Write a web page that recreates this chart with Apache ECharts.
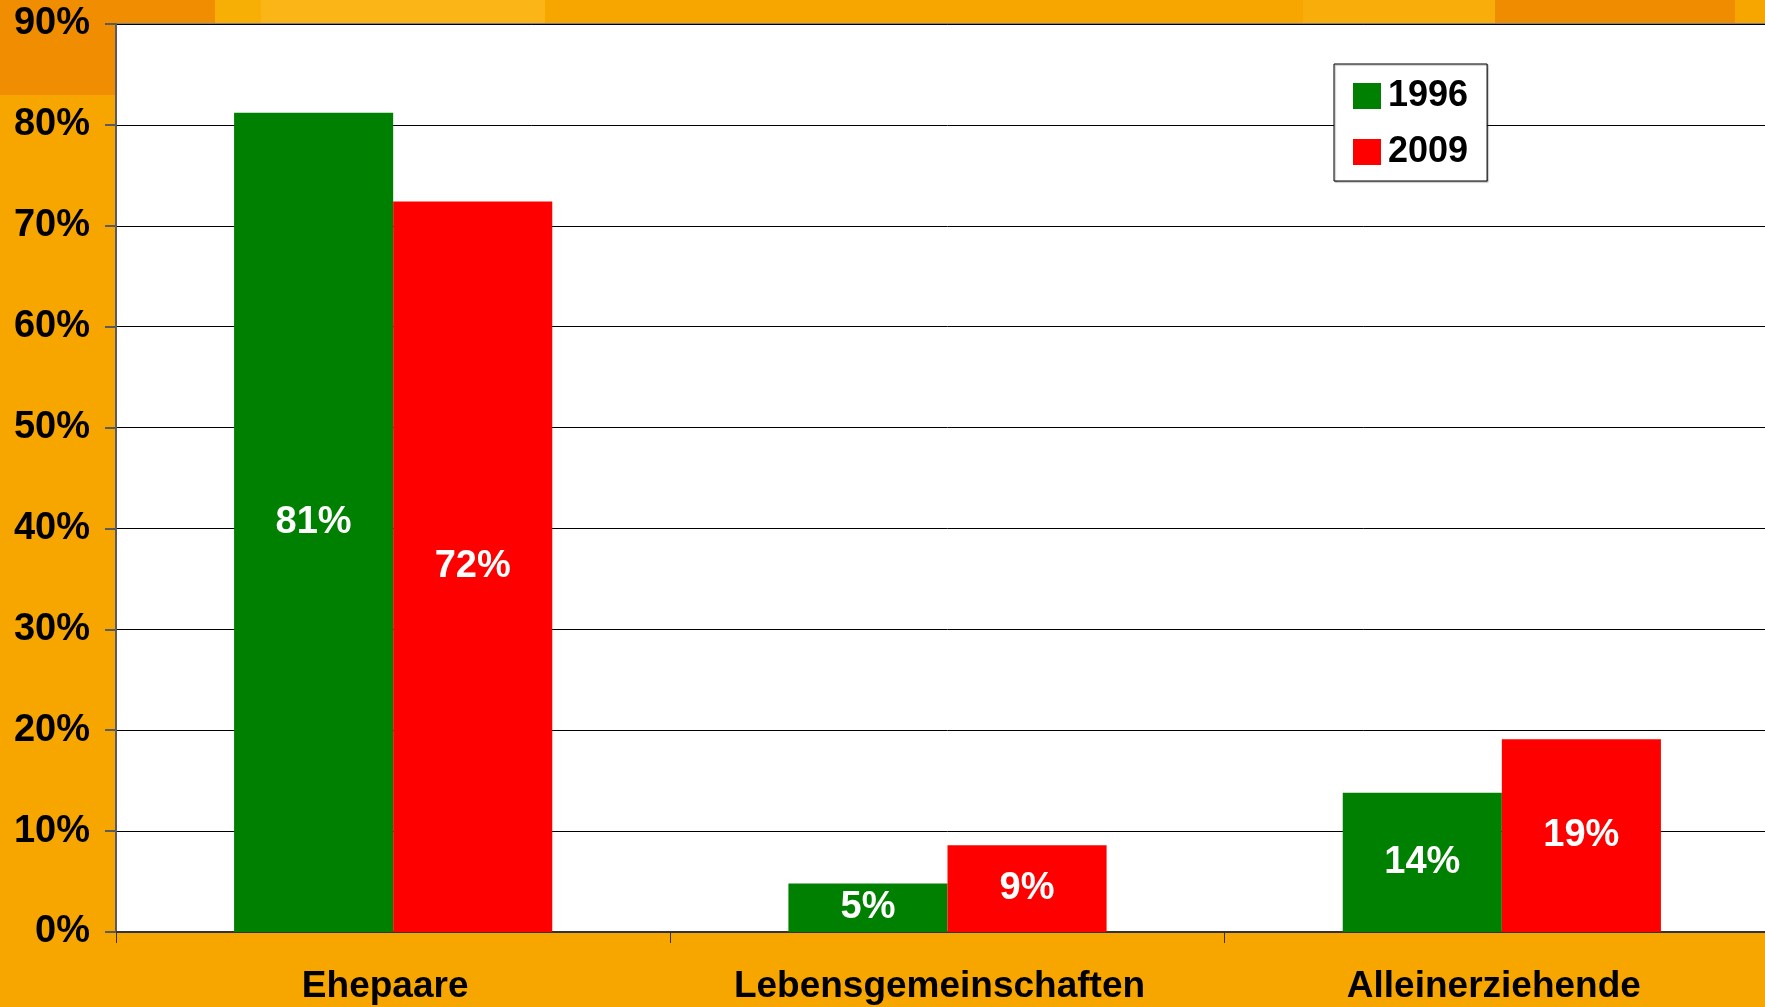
<!DOCTYPE html>
<html>
<head>
<meta charset="utf-8">
<script src="https://cdn.jsdelivr.net/npm/echarts@6/dist/echarts.min.js"></script>
<style>
html,body{margin:0;padding:0;background:#F7A600;overflow:hidden;}
#chart{width:1779px;height:1007px;}
</style>
</head>
<body>
<div id="chart"></div>
<script>
const categories = ['Ehepaare', 'Lebensgemeinschaften', 'Alleinerziehende'];
const seriesNames = ['1996', '2009'];
const values1996 = [81.2, 4.8, 13.8];
const values2009 = [72.4, 8.6, 19.1];
const yTicks = [0, 10, 20, 30, 40, 50, 60, 70, 80, 90];

const FONT = '"Liberation Sans", Arial, sans-serif';
const chart = echarts.init(document.getElementById('chart'), null, {renderer: 'canvas'});

const labelOpt = {
  show: true,
  position: 'inside',
  color: '#fff',
  fontFamily: FONT,
  fontWeight: 'bold',
  fontSize: 38,
  formatter: p => Math.round(p.value) + '%'
};

chart.setOption({
  backgroundColor: '#F7A600',
  animation: false,
  graphic: [
    {type: 'rect', z: -10, silent: true, shape: {x: 0, y: 0, width: 215, height: 95}, style: {fill: '#F18D00'}},
    {type: 'rect', z: -10, silent: true, shape: {x: 215, y: 0, width: 46, height: 24}, style: {fill: '#F7AE05'}},
    {type: 'rect', z: -10, silent: true, shape: {x: 261, y: 0, width: 284, height: 24}, style: {fill: '#FBB517'}},
    {type: 'rect', z: -10, silent: true, shape: {x: 1303, y: 0, width: 192, height: 24}, style: {fill: '#F9AD0A'}},
    {type: 'rect', z: -10, silent: true, shape: {x: 1495, y: 0, width: 240, height: 24}, style: {fill: '#F08C00'}}
  ],
  grid: {
    left: 116, top: 24, right: 0, bottom: 75,
    show: true, backgroundColor: '#fff', borderColor: '#808080', borderWidth: 2
  },
  legend: {
    data: seriesNames,
    orient: 'vertical',
    left: 1334, top: 64,
    padding: [14, 19, 11, 19],
    itemWidth: 28, itemHeight: 26, itemGap: 20,
    backgroundColor: '#fff', borderColor: '#000', borderWidth: 1,
    shadowColor: 'rgba(0,0,0,0.35)', shadowOffsetX: 1, shadowOffsetY: 1, shadowBlur: 1,
    icon: 'rect',
    textStyle: {fontFamily: FONT, fontWeight: 'bold', fontSize: 36, color: '#000', padding: [3,0,0,2]}
  },
  xAxis: {
    type: 'category',
    data: categories,
    axisLine: {lineStyle: {color: '#333', width: 2}},
    axisTick: {show: true, length: 11, lineStyle: {color: '#333', width: 1}},
    axisLabel: {
      margin: 36, color: '#000', fontFamily: FONT, fontWeight: 'bold', fontSize: 37,
      padding: [0, 16, 0, 0]
    }
  },
  yAxis: {
    type: 'value',
    min: 0, max: 90, interval: 10,
    axisLine: {show: true, lineStyle: {color: '#5a5a5a', width: 2}},
    axisTick: {show: true, length: 11, lineStyle: {color: '#5a5a5a', width: 2}},
    axisLabel: {
      margin: 26, color: '#000', fontFamily: FONT, fontWeight: 'bold', fontSize: 38,
      padding: [7, 0, 0, 0],
      formatter: v => (yTicks.indexOf(v) >= 0 ? v + '%' : '')
    },
    splitLine: {show: true, lineStyle: {color: '#000', width: 1}}
  },
  series: [
    {
      name: seriesNames[0], type: 'bar', data: values1996,
      itemStyle: {color: '#008000'},
      barGap: '0%', barCategoryGap: '42.6%',
      label: labelOpt
    },
    {
      name: seriesNames[1], type: 'bar', data: values2009,
      itemStyle: {color: '#FF0000'},
      label: labelOpt
    }
  ]
});
</script>
</body>
</html>
